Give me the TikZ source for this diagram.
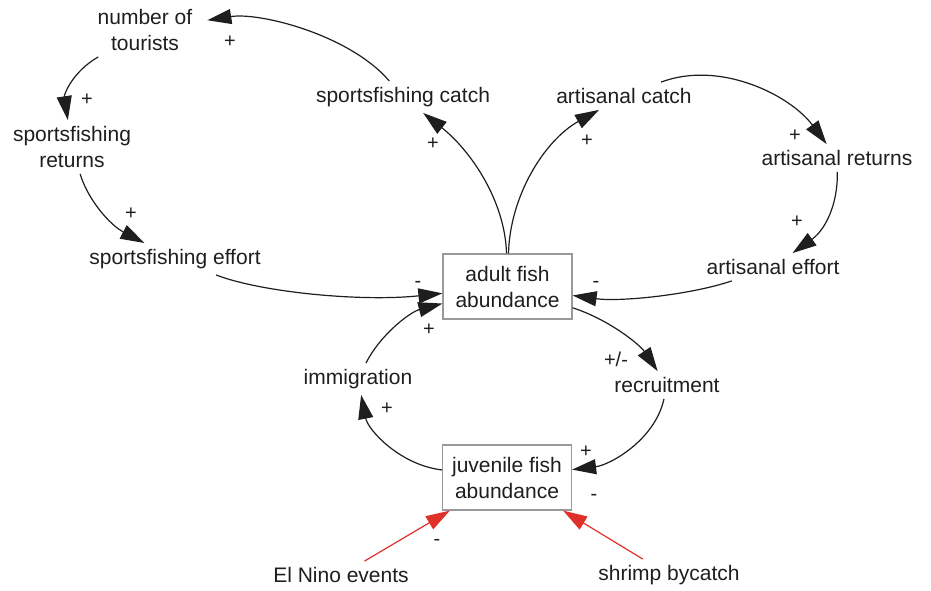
\documentclass[tikz,border=0pt]{standalone}
\usepackage{fontspec}
\setmainfont{Liberation Sans}
\usetikzlibrary{arrows.meta}
\definecolor{linkred}{HTML}{E0302A}
\definecolor{txt}{HTML}{1E1E1E}
\begin{document}
\begin{tikzpicture}[x=1pt,y=-1pt,
  every node/.style={font=\fontsize{21}{26}\selectfont, text=txt, align=center, inner sep=6pt},
  stock/.style={draw=black!40, line width=1.2pt, minimum width=129pt, minimum height=65pt, inner sep=0pt},
  link/.style={line width=1.2pt, draw=txt, -{Triangle[length=24pt,width=15pt]}},
  redlink/.style={line width=1.2pt, draw=linkred, -{Triangle[length=24pt,width=15pt]}},
  pol/.style={font=\fontsize{20}{24}\selectfont, inner sep=0pt}]
\useasboundingbox (0,0) rectangle (931,590);
% variables
\node (tour) at (145,30) {number of\\tourists};
\node (sret) at (72,147) {sportsfishing\\returns};
\node (seff) at (175,259) {sportsfishing effort};
\node (scat) at (403,97) {sportsfishing catch};
\node (acat) at (624,96) {artisanal catch};
\node (aret) at (837,158) {artisanal returns};
\node (aeff) at (773,267) {artisanal effort};
\node[stock] (adult) at (507.5,286.5) {adult fish\\abundance};
\node (imm) at (358,379) {immigration};
\node (rec) at (667,385) {recruitment};
\node[stock] (juv) at (507,477.5) {juvenile fish\\abundance};
\node (nino) at (341,575) {El Nino events};
\node (shrimp) at (669,575) {shrimp bycatch};
% links
\draw[link, shorten >=9pt] (scat) .. controls (350,35) and (260,12) .. (tour);
\draw[link] (tour) .. controls (72,72) and (64,95) .. (sret);
\draw[link] (sret) .. controls (88,200) and (110,225) .. (seff);
\draw[link] (seff) .. controls (260,292) and (360,302) .. (adult);
\draw[link] ([xshift=-1pt]adult.north) .. controls (505,200) and (470,150) .. (scat);
\draw[link] ([xshift=1pt]adult.north) .. controls (510,195) and (545,140) .. (acat);
\draw[link] (acat) .. controls (720,60) and (790,95) .. (aret);
\draw[link] (aret) .. controls (838,205) and (825,230) .. (aeff);
\draw[link] (aeff) .. controls (690,295) and (620,302) .. (adult);
\draw[link] (adult) .. controls (610,320) and (640,345) .. (rec);
\draw[link] (rec) .. controls (655,440) and (610,465) .. (juv);
\draw[link] (juv) .. controls (400,465) and (368,430) .. (imm);
\draw[link] (imm) .. controls (380,335) and (410,312) .. (adult);
\draw[redlink] (nino) -- ([xshift=8pt]juv.south west);
\draw[redlink] (shrimp) -- ([xshift=-9pt]juv.south east);
% polarities
\node[pol] (p1) at (230,42) {+};
\node[pol] (p2) at (87,100) {+};
\node[pol] (p3) at (131,214) {+};
\node[pol] (p4) at (418,284) {-};
\node[pol] (p5) at (433,144) {+};
\node[pol] (p6) at (587,141) {+};
\node[pol] (p7) at (795,136) {+};
\node[pol] (p8) at (797,222) {+};
\node[pol] (p9) at (596,284) {-};
\node[pol] (p10) at (616,359) {+/-};
\node[pol] (p11) at (586,452) {+};
\node[pol] (p12) at (387,409) {+};
\node[pol] (p13) at (429,330) {+};
\node[pol] (p14) at (437,542) {-};
\node[pol] (p15) at (594,497) {-};
\end{tikzpicture}
\end{document}
